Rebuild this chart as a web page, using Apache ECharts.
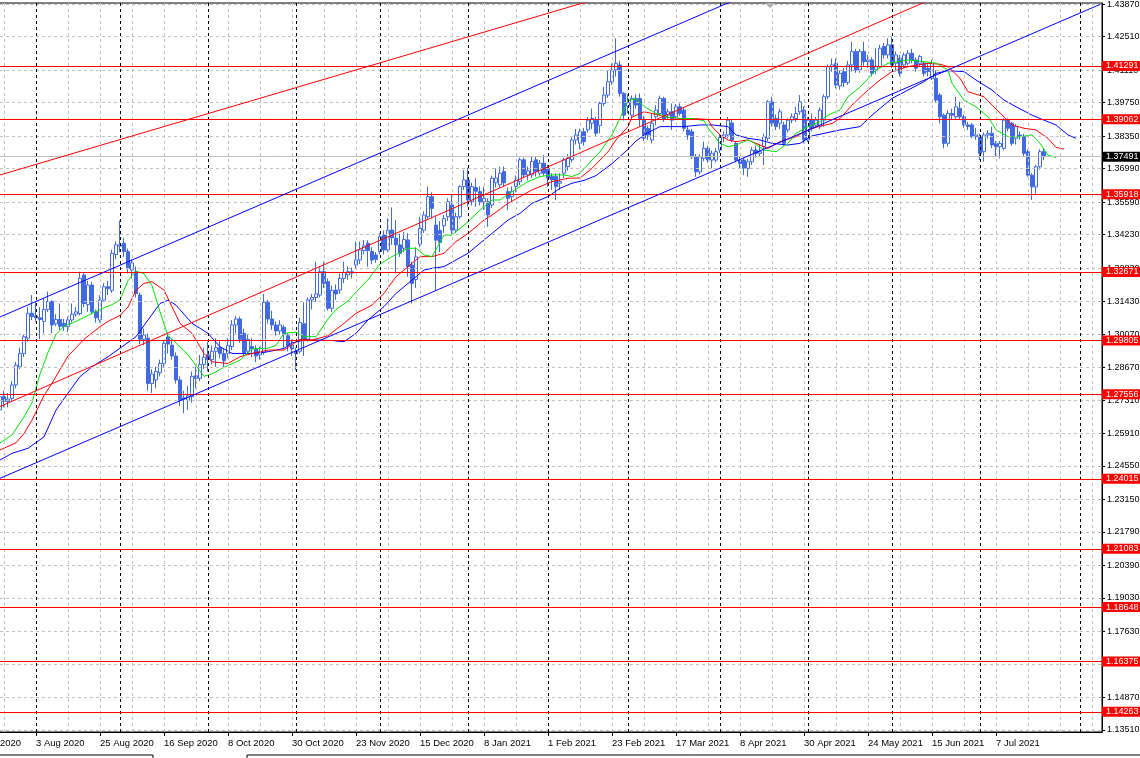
<!DOCTYPE html>
<html><head><meta charset="utf-8">
<script src="https://cdn.jsdelivr.net/npm/echarts@6/dist/echarts.min.js"></script>
<style>html,body{margin:0;padding:0;background:#fff}#c{width:1140px;height:758px}</style>
</head><body><div id="c"></div>
<script>
// ---------- calendar ----------
const firstDay = '2020-07-10';
const holidays = ['2020-12-25', '2021-01-01'];
const totalBars = 283;
const anchorDay = '2020-08-03';          // bar 0
const firstCandleBar = -9;               // first candle = 21 Jul 2020
const lastLabelBar = 240;                // 7 Jul 2021
const labelStep = 16;
const gridStep = 8;
const monthStarts = [0, 21, 43, 65, 86, 108, 128, 148, 171, 193, 214, 236, 261];

// ---------- candles [open, close, low, high] ----------
const ohlc = [
[1.2690,1.2745,1.2650,1.2770],[1.2745,1.2725,1.2700,1.2770],[1.2725,1.2735,1.2700,1.2760],[1.2738,1.2794,1.2728,1.2810],
[1.2794,1.2877,1.2780,1.2890],[1.2870,1.2926,1.2860,1.2950],[1.2926,1.2996,1.2910,1.3005],[1.2990,1.3094,1.2975,1.3120],
[1.3094,1.3080,1.3065,1.3170],
[1.3082,1.3075,1.3060,1.3140],[1.3075,1.3068,1.2985,1.3120],[1.3060,1.3110,1.3010,1.3155],[1.3110,1.3143,1.3100,1.3185],
[1.3143,1.3045,1.3010,1.3150],[1.3050,1.3068,1.3040,1.3090],[1.3068,1.3040,1.3025,1.3135],[1.3052,1.3038,1.3020,1.3070],
[1.3038,1.3066,1.3015,1.3080],[1.3066,1.3090,1.3055,1.3135],[1.3090,1.3100,1.3080,1.3120],[1.3093,1.3240,1.3085,1.3268],
[1.3254,1.3135,1.3120,1.3267],[1.3130,1.3212,1.3100,1.3230],[1.3212,1.3100,1.3090,1.3225],[1.3100,1.3075,1.3055,1.3110],
[1.3066,1.3149,1.3055,1.3170],[1.3149,1.3205,1.3140,1.3220],[1.3205,1.3198,1.3170,1.3230],[1.3190,1.3345,1.3180,1.3360],
[1.3340,1.3380,1.3320,1.3395],[1.3375,1.3380,1.3350,1.3482],[1.3387,1.3352,1.3330,1.3410],[1.3352,1.3282,1.3260,1.3365],
[1.3275,1.3305,1.3240,1.3320],[1.3268,1.3177,1.3160,1.3290],[1.3170,1.2985,1.2965,1.3180],[1.2985,1.3003,1.2960,1.3030],
[1.2990,1.2800,1.2770,1.3010],[1.2800,1.2840,1.2760,1.2860],[1.2815,1.2850,1.2780,1.2870],[1.2845,1.2884,1.2830,1.2900],
[1.2884,1.2968,1.2870,1.2980],[1.2995,1.2965,1.2925,1.3008],[1.2960,1.2915,1.2900,1.2985],[1.2915,1.2815,1.2800,1.2930],
[1.2815,1.2730,1.2705,1.2830],[1.2740,1.2735,1.2676,1.2770],[1.2730,1.2748,1.2690,1.2790],[1.2745,1.2830,1.2720,1.2850],
[1.2833,1.2822,1.2780,1.2870],[1.2822,1.2880,1.2810,1.2920],[1.2880,1.2910,1.2860,1.2950],[1.2920,1.2900,1.2850,1.2975],
[1.2900,1.2935,1.2880,1.2960],[1.2935,1.2950,1.2870,1.2990],[1.2950,1.2925,1.2905,1.2980],[1.2925,1.2895,1.2865,1.2945],
[1.2925,1.2960,1.2905,1.2990],[1.2955,1.3045,1.2940,1.3065],[1.3045,1.3070,1.3010,1.3083],[1.3070,1.2985,1.2970,1.3080],
[1.3010,1.2930,1.2920,1.3030],[1.2935,1.2985,1.2925,1.3005],[1.2955,1.2945,1.2910,1.2990],[1.2945,1.2915,1.2890,1.2960],
[1.2920,1.2935,1.2900,1.2955],[1.2930,1.3140,1.2920,1.3175],[1.3140,1.3070,1.3050,1.3150],[1.3070,1.3045,1.3025,1.3105],
[1.3045,1.3020,1.3000,1.3060],[1.3020,1.3045,1.3005,1.3065],[1.3035,1.3005,1.2950,1.3045],[1.3000,1.2960,1.2935,1.3010],
[1.2960,1.2945,1.2915,1.2985],[1.2935,1.2925,1.2855,1.2950],[1.2935,1.3055,1.2925,1.3075],[1.3050,1.2985,1.2915,1.3140],
[1.2985,1.3150,1.2975,1.3160],[1.3150,1.3160,1.3110,1.3175],[1.3160,1.3175,1.3140,1.3310],[1.3170,1.3268,1.3160,1.3290],
[1.3268,1.3219,1.3200,1.3310],[1.3226,1.3115,1.3105,1.3240],[1.3115,1.3190,1.3100,1.3210],[1.3191,1.3175,1.3150,1.3215],
[1.3191,1.3240,1.3175,1.3260],[1.3240,1.3265,1.3220,1.3310],[1.3255,1.3268,1.3235,1.3290],[1.3268,1.3262,1.3240,1.3285],
[1.3296,1.3317,1.3280,1.3394],[1.3317,1.3359,1.3300,1.3394],[1.3356,1.3376,1.3340,1.3400],[1.3387,1.3356,1.3289,1.3400],
[1.3352,1.3317,1.3300,1.3370],[1.3338,1.3320,1.3305,1.3350],[1.3352,1.3414,1.3340,1.3430],[1.3421,1.3359,1.3340,1.3440],
[1.3359,1.3442,1.3350,1.3491],[1.3442,1.3410,1.3380,1.3537],[1.3408,1.3380,1.3261,1.3484],[1.3380,1.3345,1.3330,1.3428],
[1.3366,1.3403,1.3350,1.3436],[1.3401,1.3289,1.3247,1.3429],[1.3296,1.3219,1.3135,1.3310],[1.3235,1.3330,1.3200,1.3370],
[1.3383,1.3449,1.3370,1.3498],[1.3442,1.3505,1.3430,1.3520],[1.3498,1.3582,1.3490,1.3624],[1.3582,1.3533,1.3491,1.3600],
[1.3463,1.3400,1.3190,1.3498],[1.3440,1.3390,1.3350,1.3480],[1.3460,1.3490,1.3430,1.3505],[1.3498,1.3561,1.3480,1.3575],
[1.3547,1.3442,1.3422,1.3589],[1.3442,1.3498,1.3430,1.3515],[1.3498,1.3624,1.3490,1.3630],[1.3624,1.3652,1.3610,1.3693],
[1.3652,1.3568,1.3540,1.3703],[1.3561,1.3624,1.3545,1.3640],[1.3620,1.3605,1.3540,1.3659],[1.3603,1.3561,1.3545,1.3625],
[1.3561,1.3575,1.3526,1.3624],[1.3561,1.3505,1.3456,1.3575],[1.3547,1.3659,1.3535,1.3670],[1.3640,1.3660,1.3620,1.3700],
[1.3631,1.3680,1.3620,1.3708],[1.3687,1.3640,1.3625,1.3708],[1.3603,1.3575,1.3526,1.3620],[1.3582,1.3603,1.3560,1.3625],
[1.3624,1.3652,1.3600,1.3670],[1.3645,1.3736,1.3630,1.3745],[1.3736,1.3673,1.3660,1.3745],[1.3673,1.3690,1.3650,1.3708],
[1.3673,1.3729,1.3660,1.3750],[1.3736,1.3687,1.3666,1.3750],[1.3680,1.3722,1.3670,1.3735],[1.3722,1.3680,1.3670,1.3756],
[1.3701,1.3659,1.3624,1.3715],[1.3666,1.3652,1.3610,1.3680],[1.3666,1.3624,1.3568,1.3680],[1.3638,1.3645,1.3610,1.3680],
[1.3680,1.3736,1.3660,1.3745],[1.3708,1.3743,1.3690,1.3760],[1.3736,1.3819,1.3725,1.3830],[1.3819,1.3840,1.3800,1.3865],
[1.3805,1.3854,1.3780,1.3866],[1.3854,1.3812,1.3795,1.3870],[1.3861,1.3902,1.3850,1.3915],[1.3889,1.3909,1.3865,1.3950],
[1.3902,1.3847,1.3835,1.3915],[1.3880,1.3972,1.3847,1.3980],[1.3972,1.4007,1.3960,1.4042],[1.4007,1.4063,1.3995,1.4112],
[1.4063,1.4112,1.4050,1.4140],[1.4112,1.4140,1.4084,1.4244],[1.4133,1.4014,1.4000,1.4150],[1.4014,1.3923,1.3900,1.4020],
[1.3960,1.3975,1.3930,1.4010],[1.3923,1.3993,1.3910,1.4005],[1.3993,1.3965,1.3950,1.4010],[1.3993,1.3909,1.3875,1.4014],
[1.3902,1.3826,1.3815,1.3920],[1.3868,1.3840,1.3819,1.3880],[1.3819,1.3889,1.3805,1.3930],[1.3916,1.3944,1.3880,1.3965],
[1.3930,1.3993,1.3920,1.4005],[1.3993,1.3909,1.3895,1.4000],[1.3923,1.3937,1.3905,1.3950],[1.3937,1.3902,1.3861,1.3972],
[1.3916,1.3958,1.3905,1.3970],[1.3958,1.3930,1.3920,1.3972],[1.3944,1.3868,1.3855,1.3955],[1.3861,1.3840,1.3820,1.3875],
[1.3854,1.3749,1.3740,1.3865],[1.3749,1.3686,1.3665,1.3760],[1.3686,1.3749,1.3675,1.3760],[1.3742,1.3784,1.3730,1.3812],
[1.3784,1.3735,1.3725,1.3795],[1.3735,1.3763,1.3700,1.3775],[1.3735,1.3770,1.3725,1.3785],[1.3777,1.3830,1.3765,1.3845],
[1.3830,1.3840,1.3810,1.3855],[1.3840,1.3902,1.3825,1.3915],[1.3890,1.3819,1.3810,1.3905],[1.3805,1.3735,1.3725,1.3815],
[1.3735,1.3721,1.3700,1.3750],[1.3735,1.3700,1.3672,1.3745],[1.3700,1.3728,1.3665,1.3740],[1.3728,1.3777,1.3715,1.3790],
[1.3777,1.3763,1.3745,1.3795],[1.3763,1.3770,1.3750,1.3800],[1.3791,1.3833,1.3714,1.3845],[1.3826,1.3979,1.3815,1.3986],
[1.3979,1.3889,1.3875,1.4000],[1.3909,1.3875,1.3860,1.3925],[1.3889,1.3937,1.3865,1.3950],[1.3882,1.3805,1.3795,1.3895],
[1.3861,1.3902,1.3850,1.3910],[1.3902,1.3916,1.3890,1.3930],[1.3909,1.3930,1.3895,1.3958],[1.3937,1.3979,1.3925,1.4007],
[1.3944,1.3819,1.3805,1.3960],[1.3819,1.3902,1.3810,1.3915],[1.3902,1.3868,1.3855,1.3930],[1.3881,1.3902,1.3870,1.3915],
[1.3875,1.3944,1.3865,1.3955],[1.3902,1.4000,1.3875,1.4010],[1.4000,1.4126,1.3990,1.4135],[1.4126,1.4133,1.4105,1.4160],
[1.4140,1.4049,1.4035,1.4160],[1.4045,1.4098,1.4030,1.4110],[1.4105,1.4060,1.4040,1.4120],[1.4060,1.4133,1.4050,1.4150],
[1.4133,1.4189,1.4105,1.4230],[1.4189,1.4112,1.4100,1.4200],[1.4112,1.4189,1.4100,1.4200],[1.4189,1.4147,1.4130,1.4230],
[1.4147,1.4154,1.4120,1.4175],[1.4154,1.4098,1.4085,1.4165],[1.4112,1.4126,1.4095,1.4203],[1.4126,1.4203,1.4120,1.4217],
[1.4210,1.4175,1.4160,1.4225],[1.4175,1.4217,1.4160,1.4244],[1.4217,1.4133,1.4120,1.4251],[1.4140,1.4175,1.4105,1.4189],
[1.4161,1.4098,1.4085,1.4175],[1.4133,1.4175,1.4120,1.4185],[1.4140,1.4182,1.4130,1.4195],[1.4182,1.4154,1.4140,1.4200],
[1.4154,1.4119,1.4105,1.4165],[1.4140,1.4168,1.4125,1.4175],[1.4140,1.4098,1.4085,1.4150],[1.4119,1.4105,1.4085,1.4140],
[1.4077,1.4140,1.4070,1.4155],[1.4077,1.3986,1.3975,1.4110],[1.4007,1.3916,1.3888,1.4015],[1.3923,1.3805,1.3784,1.3930],
[1.3805,1.3930,1.3791,1.3944],[1.3930,1.3923,1.3905,1.3950],[1.3916,1.3958,1.3905,1.4000],[1.3951,1.3916,1.3905,1.3980],
[1.3916,1.3882,1.3870,1.3925],[1.3882,1.3875,1.3860,1.3895],[1.3882,1.3833,1.3826,1.3890],[1.3833,1.3840,1.3820,1.3870],
[1.3833,1.3763,1.3735,1.3845],[1.3770,1.3840,1.3728,1.3850],[1.3840,1.3847,1.3825,1.3860],[1.3847,1.3798,1.3785,1.3875],
[1.3805,1.3791,1.3749,1.3815],[1.3791,1.3805,1.3742,1.3815],[1.3784,1.3902,1.3775,1.3910],[1.3902,1.3868,1.3855,1.3910],
[1.3889,1.3805,1.3795,1.3895],[1.3826,1.3875,1.3800,1.3885],[1.3840,1.3833,1.3820,1.3855],[1.3833,1.3763,1.3750,1.3845],
[1.3770,1.3672,1.3665,1.3780],[1.3672,1.3623,1.3568,1.3680],[1.3623,1.3707,1.3588,1.3715],[1.3707,1.3770,1.3695,1.3780],
[1.3770,1.37491,1.3735,1.3785]
];

// ---------- Alligator lines [bar, price] ----------
const lips = [[-9,1.2552],[-6,1.2585],[-3,1.2660],[-1,1.2720],[1,1.2840],[3,1.2930],[5,1.3005],[7,1.3040],[10,1.3060],[13,1.3085],
[16,1.3110],[19,1.3130],[21,1.3150],[23,1.3230],[25,1.3270],[27,1.3260],[29,1.3210],[31,1.3100],[33,1.3000],[35,1.2970],[38,1.2920],
[40,1.2875],[42,1.2830],[44,1.2840],[47,1.2868],[51,1.2898],[54,1.2945],[58,1.2948],[60,1.2960],[62,1.3010],[65,1.3015],[67,1.2996],
[70,1.2996],[73,1.3070],[75,1.3110],[78,1.3145],[81,1.3200],[83,1.3235],[86,1.3300],[89,1.3331],[93,1.3366],[95,1.3366],[97,1.3338],
[99,1.3331],[102,1.3421],[104,1.3421],[107,1.3463],[108,1.3477],[111,1.3526],[114,1.3568],[116,1.3568],[119,1.3603],[123,1.3645],
[126,1.3666],[129,1.3673],[132,1.3673],[134,1.3666],[136,1.3680],[139,1.3735],[141,1.3770],[144,1.3840],[146,1.3910],[148,1.3985],
[150,1.3990],[152,1.3960],[155,1.3930],[158,1.3914],[161,1.3909],[164,1.3909],[167,1.3900],[168,1.3870],[171,1.3805],[173,1.3791],
[175,1.3798],[178,1.3819],[179,1.3812],[182,1.3777],[185,1.3770],[188,1.3805],[190,1.3847],[193,1.3875],[196,1.3896],[198,1.3923],
[201,1.3945],[203,1.4000],[206,1.4040],[208,1.4075],[210,1.4112],[213,1.4140],[218,1.4154],[222,1.4147],[225,1.4140],[228,1.4112],
[229,1.4056],[232,1.3986],[235,1.3958],[238,1.3916],[240,1.3861],[243,1.3833],[246,1.3833],[249,1.3840],[251,1.3805],[253,1.3756],[255,1.3746]];
const teeth = [[-9,1.2522],[-5,1.2552],[-3,1.2591],[-1,1.2647],[2,1.2750],[4,1.2801],[8,1.2915],[12,1.2985],[16,1.3038],[18,1.3060],
[21,1.3085],[23,1.3120],[25,1.3190],[27,1.3219],[29,1.3226],[32,1.3191],[34,1.3121],[36,1.3052],[39,1.3010],[42,1.2926],[44,1.2891],
[48,1.2884],[51,1.2912],[54,1.2926],[58,1.2940],[62,1.2940],[66,1.2985],[69,1.2982],[73,1.3000],[77,1.3052],[80,1.3094],[84,1.3128],
[87,1.3177],[90,1.3247],[93,1.3289],[96,1.3331],[99,1.3331],[102,1.3345],[105,1.3394],[108,1.3428],[112,1.3484],[114,1.3505],
[118,1.3554],[121,1.3582],[124,1.3610],[126,1.3624],[129,1.3645],[133,1.3659],[136,1.3660],[139,1.3700],[143,1.3770],[145,1.3819],
[148,1.3875],[149,1.3915],[152,1.3937],[154,1.3930],[158,1.3914],[161,1.3909],[164,1.3909],[168,1.3905],[169,1.3875],[171,1.3840],
[173,1.3819],[175,1.3812],[178,1.3819],[181,1.3798],[183,1.3784],[186,1.3812],[190,1.3833],[193,1.3861],[196,1.3877],[199,1.3888],
[201,1.3909],[204,1.3965],[208,1.4028],[211,1.4070],[214,1.4105],[218,1.4126],[223,1.4140],[226,1.4136],[228,1.4126],[231,1.4077],
[233,1.4021],[237,1.4000],[239,1.3965],[242,1.3916],[244,1.3882],[247,1.3868],[250,1.3861],[253,1.3826],[255,1.3788],[257,1.3781]];
const jaw = [[-9,1.2480],[-6,1.2508],[-2,1.2529],[2,1.2577],[5,1.2689],[8,1.2760],[11,1.2829],[14,1.2870],[18,1.2912],[22,1.2960],
[25,1.2996],[28,1.3066],[31,1.3135],[33,1.3149],[35,1.3128],[39,1.3052],[43,1.3010],[46,1.2954],[49,1.2926],[54,1.2926],[58,1.2933],
[62,1.2947],[64,1.2970],[67,1.2982],[70,1.2982],[74,1.2980],[77,1.2975],[80,1.3010],[83,1.3066],[87,1.3122],[90,1.3177],[93,1.3219],
[97,1.3275],[99,1.3282],[102,1.3289],[105,1.3317],[108,1.3345],[111,1.3387],[114,1.3428],[118,1.3484],[121,1.3512],[124,1.3554],
[128,1.3582],[131,1.3617],[134,1.3638],[137,1.3650],[140,1.3670],[144,1.3720],[148,1.3780],[150,1.3815],[153,1.3850],[156,1.3875],
[162,1.3875],[166,1.3882],[169,1.3882],[173,1.3875],[175,1.3840],[178,1.3826],[181,1.3819],[184,1.3805],[188,1.3798],[191,1.3805],
[194,1.3836],[199,1.3854],[201,1.3861],[206,1.3875],[209,1.3923],[214,1.3993],[218,1.4028],[222,1.4063],[225,1.4098],[228,1.4109],
[232,1.4105],[235,1.4070],[239,1.4028],[242,1.3986],[245,1.3958],[249,1.3923],[252,1.3902],[255,1.3882],[258,1.3840],[260,1.3826]];

// ---------- trend lines [bar, price] ----------
const upperRedLine = [[-16,1.3638],[150,1.4458]];
const upperBlueLine = [[-16,1.30279],[190,1.45152]];
const middleRedLine = [[-16,1.26527],[235,1.44900]];
const lowerBlueLine = [[-16,1.23530],[266,1.43862]];

// ---------- price scale ----------
const priceMin = 1.1342, priceMax = 1.43922;
const priceTicks = [1.43870,1.42510,1.41110,1.39750,1.38350,1.36990,1.35590,1.34230,1.32830,1.31430,1.30070,1.28670,
  1.27310,1.25910,1.24550,1.23150,1.21790,1.20390,1.19030,1.17630,1.16270,1.14870,1.13510];
const levels = [1.41291,1.39062,1.35918,1.32671,1.29805,1.27556,1.24015,1.21083,1.18648,1.16375,1.14263];
const lastPrice = 1.37491;

// ---------- build ----------
const categories = [];
{
  const hol = new Set(holidays);
  const d = new Date(firstDay + 'T00:00:00Z');
  while (categories.length < totalBars) {
    const wd = d.getUTCDay();
    const s = d.toISOString().slice(0, 10);
    if (wd !== 0 && wd !== 6 && !hol.has(s)) categories.push(s);
    d.setUTCDate(d.getUTCDate() + 1);
  }
}
const anchor = categories.indexOf(anchorDay);
const MON = ['Jan','Feb','Mar','Apr','May','Jun','Jul','Aug','Sep','Oct','Nov','Dec'];
const fmtDate = s => { const [y, m, dd] = s.split('-'); return (+dd) + ' ' + MON[+m - 1] + ' ' + y; };
const showLabel = k => { const i = k - anchor; return i % labelStep === 0 && i <= lastLabelBar; };

const candleData = categories.map((c, k) => {
  const j = k - anchor - firstCandleBar;
  return (j >= 0 && j < ohlc.length) ? ohlc[j] : '-';
});
const toXY = arr => arr.map(([i, p]) => [i + anchor, p]);

const vGrid = [];
for (let i = -anchor; i + anchor < totalBars; i += gridStep) vGrid.push({ xAxis: i + anchor });

const FONT = 'Liberation Sans';
const noLabel = { show: false };
const lineSeries = (name, data, color, z) => ({
  name, type: 'line', data: toXY(data), symbol: 'none', smooth: false, clip: true, silent: true, z,
  lineStyle: { color, width: 1 }, animation: false
});
const boxLabel = bg => ({ show: true, position: 'end', distance: 0, formatter: p => Number(p.value).toFixed(5),
  color: '#fff', backgroundColor: bg, padding: [1, 8, 0, 4], fontSize: 9, fontFamily: FONT });

const option = {
  animation: false,
  backgroundColor: '#ffffff',
  textStyle: { fontFamily: FONT },
  grid: { left: -30, right: 38, top: 3, bottom: 26, show: true, borderColor: '#000', borderWidth: 1,
          backgroundColor: '#fff', containLabel: false, outerBoundsMode: 'none' },
  xAxis: {
    type: 'category', data: categories, boundaryGap: true,
    axisLine: { show: true, lineStyle: { color: '#000', width: 1 } },
    axisTick: { show: true, alignWithLabel: true, interval: (k) => showLabel(k), length: 4, lineStyle: { color: '#000' } },
    axisLabel: { interval: (k) => showLabel(k), formatter: v => fmtDate(v), align: 'left', margin: 6,
                 fontSize: 9.5, color: '#000', fontFamily: FONT, hideOverlap: false },
    splitLine: { show: false }
  },
  yAxis: {
    type: 'value', position: 'right', min: priceMin, max: priceMax, scale: true,
    axisLine: { show: true, lineStyle: { color: '#000', width: 1 } },
    axisTick: { show: true, customValues: priceTicks, length: 3, lineStyle: { color: '#000' } },
    axisLabel: { customValues: priceTicks, formatter: v => v.toFixed(5), fontSize: 9, color: '#000',
                 margin: 5, fontFamily: FONT, hideOverlap: false, showMinLabel: true, showMaxLabel: true },
    splitLine: { show: false }
  },
  series: [
    { // background grid
      name: 'grid', type: 'line', data: [], z: 1, silent: true,
      markLine: { silent: true, symbol: ['none', 'none'], animation: false, label: noLabel, precision: 5,
        lineStyle: { color: '#c0c0c0', width: 1, type: [3, 3] },
        data: priceTicks.map(v => ({ yAxis: v })).concat(vGrid) }
    },
    { // month separators
      name: 'sep', type: 'line', data: [], z: 1, silent: true,
      markLine: { silent: true, symbol: ['none', 'none'], animation: false, label: noLabel, precision: 5,
        lineStyle: { color: '#000', width: 1, type: [3, 3] },
        data: monthStarts.map(i => ({ xAxis: i + anchor })) }
    },
    { // current price line
      name: 'bid', type: 'line', data: [], z: 2, silent: true,
      markLine: { silent: true, symbol: ['none', 'none'], animation: false, precision: 5,
        lineStyle: { color: '#c0c0c0', width: 1, type: 'solid' },
        label: boxLabel('#000'),
        data: [{ yAxis: lastPrice }] }
    },
    {
      name: 'price', type: 'candlestick', data: candleData, barWidth: 3, z: 3, clip: true, silent: true,
      itemStyle: { color: '#ffffff', color0: '#4169E1', borderColor: '#4169E1', borderColor0: '#4169E1', borderWidth: 1 }
    },
    lineSeries('jaw', jaw, '#0000ff', 4),
    lineSeries('teeth', teeth, '#ff0000', 4),
    lineSeries('lips', lips, '#00e000', 4),
    lineSeries('upperRed', upperRedLine, '#ff0000', 5),
    lineSeries('upperBlue', upperBlueLine, '#0000ff', 5),
    lineSeries('middleRed', middleRedLine, '#ff0000', 5),
    lineSeries('lowerBlue', lowerBlueLine, '#0000ff', 5),
    { // horizontal levels
      name: 'levels', type: 'line', data: [], z: 6, silent: true,
      markLine: { silent: true, symbol: ['none', 'none'], animation: false, precision: 5,
        lineStyle: { color: '#ff0000', width: 1, type: 'solid' },
        label: boxLabel('#ff0000'),
        data: levels.map(v => ({ yAxis: v })) }
    }
  ],
  graphic: [
    { type: 'polygon', shape: { points: [[765, 3], [775, 3], [770, 8]] }, style: { fill: '#a8a8a8' }, silent: true },
    { type: 'polyline', shape: { points: [[0, 755], [153, 755], [153, 758]] }, style: { stroke: '#000', lineWidth: 1, fill: null } },
    { type: 'polyline', shape: { points: [[247, 758], [247, 755], [1140, 755]] }, style: { stroke: '#000', lineWidth: 1, fill: null } }
  ]
};

const chart = echarts.init(document.getElementById('c'), null, { renderer: 'canvas' });
chart.setOption(option);
</script>
</body></html>
